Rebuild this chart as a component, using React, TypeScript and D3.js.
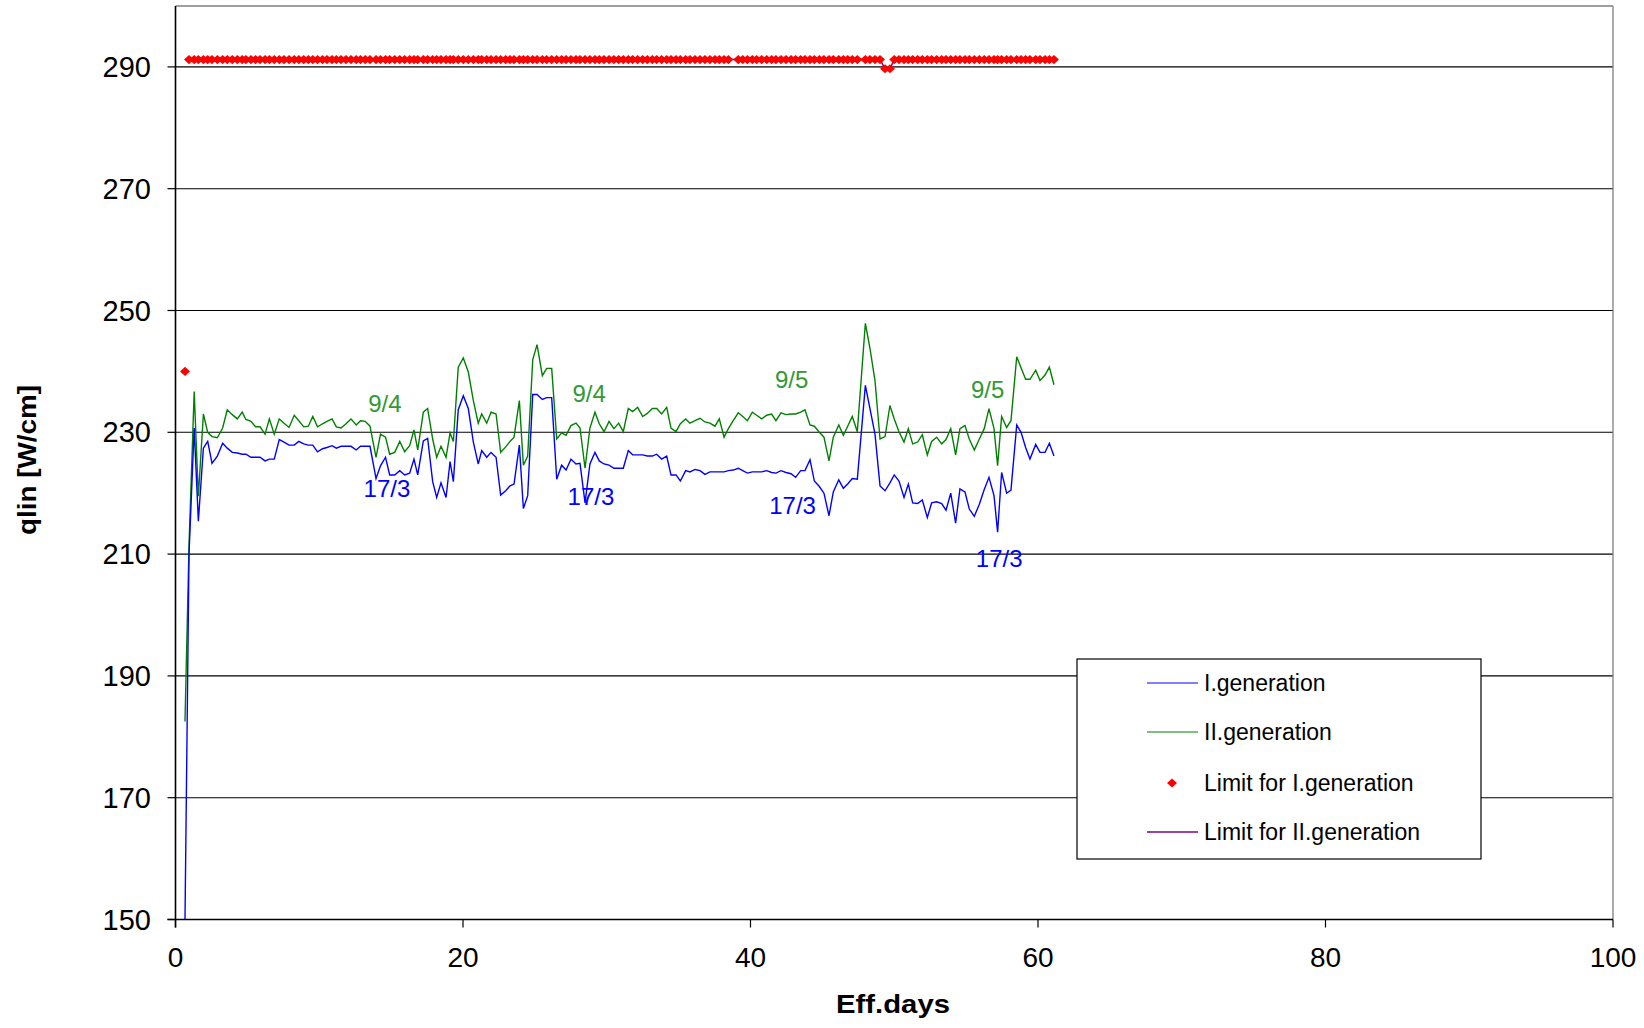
import React from 'react';
import * as d3 from 'd3';

// ---- data ----
const DAYS: number[] = [
  0.66, 0.94, 1.30, 1.59, 1.94, 2.24, 2.54, 2.91, 3.28, 3.60,
  3.95, 4.30, 4.64, 4.90, 5.25, 5.57, 5.88, 6.23, 6.53, 6.87,
  7.22, 7.55, 7.90, 8.26, 8.58, 8.92, 9.24, 9.55, 9.88, 10.23,
  10.54, 10.89, 11.19, 11.51, 11.86, 12.21, 12.57, 12.87, 13.20, 13.53,
  13.95, 14.26, 14.61, 14.90, 15.25, 15.60, 15.94, 16.29, 16.59, 16.85,
  17.24, 17.54, 17.89, 18.17, 18.47, 18.82, 19.10, 19.33, 19.67, 20.02,
  20.37, 20.72, 21.06, 21.30, 21.65, 21.95, 22.30, 22.62, 22.97, 23.27,
  23.55, 23.92, 24.20, 24.50, 24.85, 25.15, 25.52, 25.82, 26.17, 26.52,
  26.86, 27.17, 27.51, 27.86, 28.14, 28.49, 28.83, 29.18, 29.48, 29.81,
  30.16, 30.50, 30.83, 31.15, 31.50, 31.80, 32.15, 32.50, 32.82, 33.17,
  33.47, 33.82, 34.17, 34.47, 34.82, 35.12, 35.49, 35.79, 36.14, 36.49,
  36.83, 37.18, 37.53, 37.83, 38.16, 38.46, 38.80, 39.15, 39.46, 39.78,
  40.13, 40.43, 40.78, 41.13, 41.47, 41.77, 42.12, 42.47, 42.82, 43.14,
  43.49, 43.79, 44.14, 44.44, 44.79, 45.11, 45.46, 45.76, 46.14, 46.46,
  46.76, 47.08, 47.43, 47.99, 48.31, 48.66, 49.01, 49.36, 49.70, 50.00,
  50.33, 50.68, 50.98, 51.28, 51.63, 51.95, 52.30, 52.60, 52.95, 53.30,
  53.60, 53.93, 54.27, 54.57, 54.92, 55.22, 55.57, 55.92, 56.26, 56.59,
  56.94, 57.19, 57.47, 57.82, 58.12, 58.52, 58.82, 59.14, 59.44, 59.84,
  60.14, 60.49, 60.79, 61.11,
];

const GEN_I: number[] = [
  150, 210, 230.7, 215.4, 227.4, 228.5, 224.9, 226.1, 228.2, 227.4,
  226.7, 226.6, 226.4, 226.4, 225.9, 225.9, 225.9, 225.3, 225.6, 225.6,
  228.8, 228.4, 227.9, 227.9, 228.5, 228.1, 227.9, 227.9, 226.8, 227.3,
  227.5, 227.8, 227.4, 227.7, 227.7, 227.7, 227.1, 227.7, 227.7, 227.7,
  222.4, 224.5, 225.9, 223.0, 223.0, 223.7, 223.0, 223.3, 225.6, 223.0,
  228.6, 229.0, 221.9, 219.3, 221.7, 219.3, 225.2, 221.9, 233.7, 236.0,
  233.9, 228.4, 224.8, 227.0, 225.9, 226.7, 225.9, 219.7, 220.4, 221.2,
  221.5, 227.9, 217.5, 219.6, 236.2, 236.2, 235.4, 235.7, 235.7, 222.3,
  224.6, 223.8, 225.6, 224.8, 224.9, 218.4, 224.8, 226.7, 225.3, 224.8,
  224.6, 224.1, 224.1, 224.1, 227.0, 226.3, 226.3, 226.3, 226.1, 226.1,
  226.4, 225.6, 226.1, 223.0, 223.0, 222.0, 223.7, 223.5, 223.9, 223.7,
  223.1, 223.5, 223.5, 223.5, 223.5, 223.7, 223.8, 224.1, 223.7, 223.3,
  223.5, 223.5, 223.5, 223.7, 223.4, 223.3, 223.7, 223.4, 223.2, 222.6,
  223.7, 223.7, 225.5, 222.0, 221.1, 220.0, 216.3, 220.2, 222.2, 220.8,
  221.5, 222.4, 222.3, 237.7, 233.9, 229.7, 221.2, 220.4, 221.7, 223.0,
  222.0, 219.3, 221.5, 218.4, 218.3, 218.9, 216.0, 218.4, 218.6, 218.3,
  217.2, 220.0, 215.1, 220.7, 220.2, 217.4, 216.2, 218.2, 220.6, 222.6,
  219.6, 213.6, 223.4, 220.0, 220.5, 231.2, 230.0, 227.5, 225.6, 228.0,
  226.7, 226.7, 228.2, 226.1,
];

const GEN_II: number[] = [
  182.5, 211.5, 236.7, 219.5, 233.0, 230.0, 229.3, 229.1, 230.7, 233.7,
  232.9, 232.2, 233.3, 232.1, 231.8, 230.9, 230.9, 229.7, 232.2, 229.7,
  232.2, 231.5, 230.8, 232.8, 231.9, 230.9, 231.0, 232.6, 230.9, 231.4,
  231.8, 232.2, 230.9, 230.7, 231.4, 232.2, 231.2, 231.9, 231.8, 231.0,
  225.9, 229.7, 229.2, 226.4, 226.7, 228.5, 226.8, 227.8, 230.4, 227.1,
  233.3, 233.9, 228.9, 225.9, 227.7, 225.9, 229.9, 228.5, 240.7, 242.2,
  239.9, 235.2, 231.5, 233.0, 231.5, 233.3, 233.0, 226.7, 227.6, 228.5,
  229.2, 235.2, 224.6, 226.1, 241.9, 244.4, 239.3, 240.5, 240.5, 228.9,
  229.9, 229.5, 231.1, 231.5, 230.7, 224.1, 230.7, 233.3, 231.4, 230.1,
  231.8, 230.6, 231.5, 230.1, 233.9, 233.4, 234.1, 232.6, 233.1, 233.9,
  233.9, 233.0, 234.1, 230.7, 230.1, 231.4, 232.2, 231.5, 231.9, 232.3,
  231.7, 231.5, 231.0, 232.2, 229.2, 230.6, 231.9, 233.2, 232.6, 231.9,
  233.3, 232.8, 232.2, 232.8, 233.0, 231.9, 233.2, 232.9, 233.0, 233.0,
  233.3, 233.7, 231.2, 231.0, 230.0, 229.2, 225.3, 229.2, 231.2, 229.5,
  231.0, 232.6, 230.1, 247.9, 243.8, 238.5, 228.9, 229.3, 234.4, 232.2,
  230.1, 228.4, 230.6, 228.1, 228.4, 229.6, 226.3, 228.5, 229.2, 228.1,
  228.8, 230.6, 226.3, 230.6, 231.1, 228.9, 227.1, 228.9, 230.6, 233.9,
  230.6, 224.5, 232.6, 230.8, 231.9, 242.4, 240.6, 238.7, 238.7, 240.2,
  238.5, 239.4, 240.7, 237.8,
];

const LIMIT_I: (number | null)[] = [
  240, 291.2, 291.2, 291.2, 291.2, 291.2, 291.2, 291.2, 291.2, 291.2,
  291.2, 291.2, 291.2, 291.2, 291.2, 291.2, 291.2, 291.2, 291.2, 291.2,
  291.2, 291.2, 291.2, 291.2, 291.2, 291.2, 291.2, 291.2, 291.2, 291.2,
  291.2, 291.2, 291.2, 291.2, 291.2, 291.2, 291.2, 291.2, 291.2, 291.2,
  291.2, 291.2, 291.2, 291.2, 291.2, 291.2, 291.2, 291.2, 291.2, 291.2,
  291.2, 291.2, 291.2, 291.2, 291.2, 291.2, 291.2, 291.2, 291.2, 291.2,
  291.2, 291.2, 291.2, 291.2, 291.2, 291.2, 291.2, 291.2, 291.2, 291.2,
  291.2, 291.2, 291.2, 291.2, 291.2, 291.2, 291.2, 291.2, 291.2, 291.2,
  291.2, 291.2, 291.2, 291.2, 291.2, 291.2, 291.2, 291.2, 291.2, 291.2,
  291.2, 291.2, 291.2, 291.2, 291.2, 291.2, 291.2, 291.2, 291.2, 291.2,
  291.2, 291.2, 291.2, 291.2, 291.2, 291.2, 291.2, 291.2, 291.2, 291.2,
  291.2, 291.2, 291.2, 291.2, 291.2, 291.2, null, 291.2, 291.2, 291.2,
  291.2, 291.2, 291.2, 291.2, 291.2, 291.2, 291.2, 291.2, 291.2, 291.2,
  291.2, 291.2, 291.2, 291.2, 291.2, 291.2, 291.2, 291.2, 291.2, 291.2,
  291.2, 291.2, 291.2, 291.2, 291.2, 291.2, 291.2, 289.7, 289.7, 291.2,
  291.2, 291.2, 291.2, 291.2, 291.2, 291.2, 291.2, 291.2, 291.2, 291.2,
  291.2, 291.2, 291.2, 291.2, 291.2, 291.2, 291.2, 291.2, 291.2, 291.2,
  291.2, 291.2, 291.2, 291.2, 291.2, 291.2, 291.2, 291.2, 291.2, 291.2,
  291.2, 291.2, 291.2, 291.2,
];

const LIMIT_II: (number | null)[] = [
  null, 291.2, 291.2, 291.2, 291.2, 291.2, 291.2, 291.2, 291.2, 291.2,
  291.2, 291.2, 291.2, 291.2, 291.2, 291.2, 291.2, 291.2, 291.2, 291.2,
  291.2, 291.2, 291.2, 291.2, 291.2, 291.2, 291.2, 291.2, 291.2, 291.2,
  291.2, 291.2, 291.2, 291.2, 291.2, 291.2, 291.2, 291.2, 291.2, 291.2,
  291.2, 291.2, 291.2, 291.2, 291.2, 291.2, 291.2, 291.2, 291.2, 291.2,
  291.2, 291.2, 291.2, 291.2, 291.2, 291.2, 291.2, 291.2, 291.2, 291.2,
  291.2, 291.2, 291.2, 291.2, 291.2, 291.2, 291.2, 291.2, 291.2, 291.2,
  291.2, 291.2, 291.2, 291.2, 291.2, 291.2, 291.2, 291.2, 291.2, 291.2,
  291.2, 291.2, 291.2, 291.2, 291.2, 291.2, 291.2, 291.2, 291.2, 291.2,
  291.2, 291.2, 291.2, 291.2, 291.2, 291.2, 291.2, 291.2, 291.2, 291.2,
  291.2, 291.2, 291.2, 291.2, 291.2, 291.2, 291.2, 291.2, 291.2, 291.2,
  291.2, 291.2, 291.2, 291.2, 291.2, 291.2, 291.2, 291.2, 291.2, 291.2,
  291.2, 291.2, 291.2, 291.2, 291.2, 291.2, 291.2, 291.2, 291.2, 291.2,
  291.2, 291.2, 291.2, 291.2, 291.2, 291.2, 291.2, 291.2, 291.2, 291.2,
  291.2, 291.2, 291.2, 291.2, 291.2, 291.2, 291.2, 289.7, 289.7, 291.2,
  291.2, 291.2, 291.2, 291.2, 291.2, 291.2, 291.2, 291.2, 291.2, 291.2,
  291.2, 291.2, 291.2, 291.2, 291.2, 291.2, 291.2, 291.2, 291.2, 291.2,
  291.2, 291.2, 291.2, 291.2, 291.2, 291.2, 291.2, 291.2, 291.2, 291.2,
  291.2, 291.2, 291.2, 291.2,
];

const Y_TICKS: number[] = [150, 170, 190, 210, 230, 250, 270, 290];
const X_TICKS: number[] = [0, 20, 40, 60, 80, 100];

const ANNOTATIONS = [
  { text: '9/4', day: 14.57, value: 234.65, series: 'II' },
  { text: '17/3', day: 14.71, value: 220.75, series: 'I' },
  { text: '9/4', day: 28.77, value: 236.45, series: 'II' },
  { text: '17/3', day: 28.9, value: 219.54, series: 'I' },
  { text: '9/5', day: 42.86, value: 238.67, series: 'II' },
  { text: '17/3', day: 42.93, value: 218.0, series: 'I' },
  { text: '9/5', day: 56.5, value: 237.11, series: 'II' },
  { text: '17/3', day: 57.3, value: 209.23, series: 'I' },
];

const LEGEND = ['I.generation', 'II.generation', 'Limit for I.generation', 'Limit for II.generation'];

const FONT = '"Liberation Sans", Arial, Helvetica, sans-serif';
const BLUE = '#0000FF';
const GREEN = '#008000';
const RED = '#FF0000';
const PURPLE = '#800080';

const diamond = (cx: number, cy: number, rx: number, ry: number) =>
  `M${cx},${cy - ry}L${cx + rx},${cy}L${cx},${cy + ry}L${cx - rx},${cy}Z`;

export default function App() {
  const left = 175.5, right = 1613, top = 6, bottom = 919.5;
  const x = d3.scaleLinear().domain([0, 100]).range([left, right]);
  const y = d3.scaleLinear().domain([150, 300]).range([bottom, top]);

  const lineGen = d3
    .line<[number, number | null]>()
    .defined((d) => d[1] != null)
    .x((d) => x(d[0]))
    .y((d) => y(d[1] as number));

  const pts = (vals: (number | null)[]) => DAYS.map((d, i) => [d, vals[i] ?? null] as [number, number | null]);

  const lg = { x: 1077, y: 659, w: 404, h: 200 };
  const rows = [683, 732, 783, 832];

  return (
    <svg
      width={1644}
      height={1028}
      style={{ position: 'absolute', left: 0, top: 0, background: '#fff' }}
      fontFamily={FONT}
    >
      <defs>
        <clipPath id="plot">
          <rect x={left} y={top - 2} width={right - left} height={bottom - top + 2} />
        </clipPath>
      </defs>
      <rect x={0} y={0} width={1644} height={1028} fill="#fff" />

      {/* gridlines */}
      {Y_TICKS.filter((t) => t !== 150).map((t) => (
        <line key={t} x1={left} x2={right} y1={y(t)} y2={y(t)} stroke="#000" strokeWidth={1.1} />
      ))}
      {/* plot border top/right */}
      <line x1={left} x2={right} y1={top} y2={top} stroke="#808080" strokeWidth={1.3} />
      <line x1={right} x2={right} y1={top} y2={bottom} stroke="#808080" strokeWidth={1.3} />

      {/* series */}
      <g clipPath="url(#plot)">
        <path d={lineGen(pts(LIMIT_II)) || ''} fill="none" stroke={PURPLE} strokeWidth={1.5} />
        <path d={lineGen(pts(GEN_II)) || ''} fill="none" stroke={GREEN} strokeWidth={1.4} />
        <path d={lineGen(pts(GEN_I)) || ''} fill="none" stroke={BLUE} strokeWidth={1.4} />
        {DAYS.map((d, i) =>
          LIMIT_I[i] == null ? null : (
            <path key={i} d={diamond(x(d), y(LIMIT_I[i] as number), 5, 4.6)} fill={RED} />
          )
        )}
      </g>

      {/* annotations */}
      {ANNOTATIONS.map((a, i) => (
        <text
          key={i}
          x={x(a.day)}
          y={y(a.value)}
          textAnchor="middle"
          dominantBaseline="central"
          fontSize={24}
          fill={a.series === 'I' ? BLUE : '#339933'}
        >
          {a.text}
        </text>
      ))}

      {/* axes */}
      <line x1={left} x2={left} y1={top} y2={bottom + 8} stroke="#000" strokeWidth={1.6} />
      <line x1={left - 8} x2={right} y1={bottom} y2={bottom} stroke="#000" strokeWidth={1.6} />
      {Y_TICKS.map((t) => (
        <g key={t}>
          <line x1={left - 8} x2={left} y1={y(t)} y2={y(t)} stroke="#000" strokeWidth={1.2} />
          <text x={151} y={y(t)} textAnchor="end" dominantBaseline="central" fontSize={29} fill="#000">
            {t}
          </text>
        </g>
      ))}
      {X_TICKS.map((t) => (
        <g key={t}>
          <line x1={x(t)} x2={x(t)} y1={bottom} y2={bottom + 8} stroke="#000" strokeWidth={1.2} />
          <text x={x(t)} y={967} textAnchor="middle" fontSize={28} fill="#000">
            {t}
          </text>
        </g>
      ))}

      {/* axis titles */}
      <text
        transform={`translate(36,460) rotate(-90)`}
        textAnchor="middle"
        fontSize={26}
        fontWeight="bold"
        fill="#000"
        textLength={150}
        lengthAdjust="spacingAndGlyphs"
      >
        qlin [W/cm]
      </text>
      <text
        x={893}
        y={1013}
        textAnchor="middle"
        fontSize={26}
        fontWeight="bold"
        fill="#000"
        textLength={114}
        lengthAdjust="spacingAndGlyphs"
      >
        Eff.days
      </text>

      {/* legend */}
      <rect x={lg.x} y={lg.y} width={lg.w} height={lg.h} fill="#fff" stroke="#000" strokeWidth={1.2} />
      {LEGEND.map((name, i) => (
        <g key={name}>
          {i === 2 ? (
            <path d={diamond(1172, rows[i], 5, 4.6)} fill={RED} />
          ) : (
            <line
              x1={1147}
              x2={1198}
              y1={rows[i]}
              y2={rows[i]}
              stroke={i === 0 ? BLUE : i === 1 ? GREEN : PURPLE}
              strokeWidth={i === 3 ? 1.6 : 1.2}
            />
          )}
          <text x={1204} y={rows[i]} dominantBaseline="central" fontSize={23} fill="#000">
            {name}
          </text>
        </g>
      ))}
    </svg>
  );
}
